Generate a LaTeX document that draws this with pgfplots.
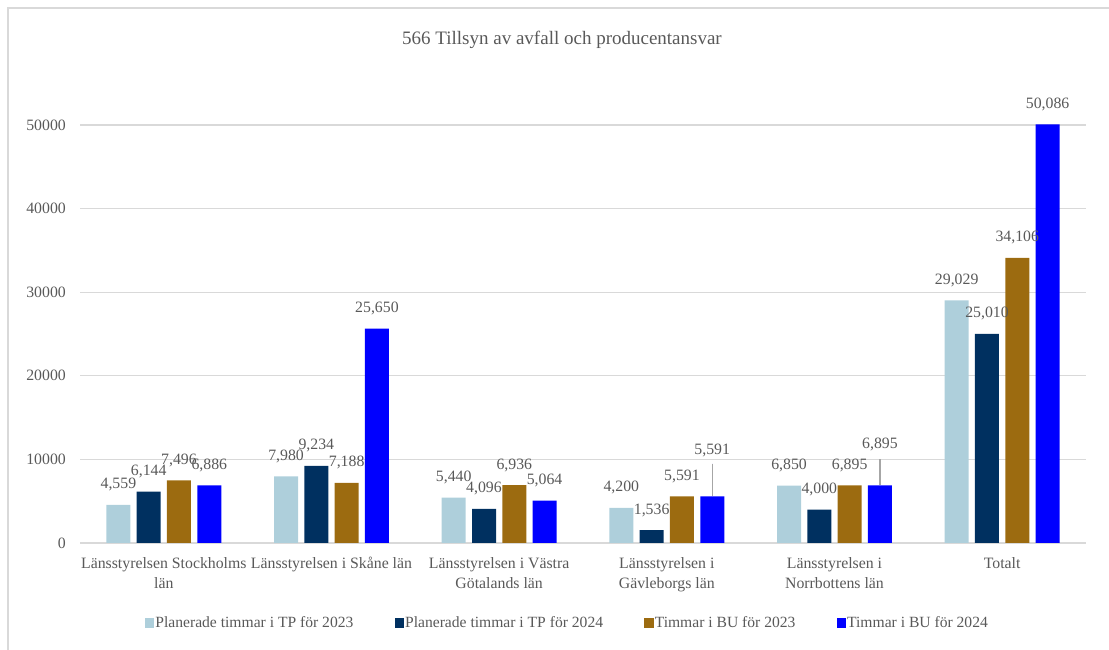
\documentclass[border=0pt]{standalone}
\usepackage{fontspec}
\setmainfont{Liberation Serif}
\usepackage{pgfplots}
\pgfplotsset{compat=1.18}
\usepackage{pgfplotstable}
\definecolor{txt}{HTML}{595959}
\definecolor{gridc}{HTML}{D9D9D9}
\definecolor{leader}{HTML}{A6A6A6}
\definecolor{cA}{HTML}{AECFDB}
\definecolor{cB}{HTML}{003060}
\definecolor{cC}{HTML}{9C6B10}
\definecolor{cD}{HTML}{0000FF}

\pgfplotstableread{
x y off err
0 4559 20 0
1 7980 20 0
2 5440 20 0
3 4200 20 0
4 6850 20 0
5 29029 20 0
}\seriesA
\pgfplotstableread{
x y off err
0 6144 20 0
1 9234 20 0
2 4096 20 0
3 1536 20 0
4 4000 20 0
5 25010 20 0
}\seriesB
\pgfplotstableread{
x y off err
0 7496 20 0
1 7188 20 0
2 6936 20 0
3 5591 20 0
4 6895 20 0
5 34106 20 0
}\seriesC
\pgfplotstableread{
x y off err
0 6886 20 0
1 25650 20 0
2 5064 20 0
3 5591 45.3 3911
4 6895 40.4 3122
5 50086 20 0
}\seriesD

\pgfplotsset{
  mybar/.style={
    draw=none,
    legend image code/.code={\fill[##1] (0bp,-4.65bp) rectangle (9.3bp,4.65bp);},
    visualization depends on={\thisrow{off} \as \laboff},
    nodes near coords,
    every node near coord/.append style={anchor=center, inner sep=0pt, yshift=\laboff bp,
      font=\fontsize{15.8bp}{19bp}\selectfont, text=txt},
  },
}

\begin{document}
\begin{tikzpicture}
\useasboundingbox (0,0) rectangle (1109bp,650bp);
\draw[gridc, line width=1.2bp] (8bp,0) -- (8bp,642bp) -- (1109bp,642bp);
\node[font=\fontsize{19bp}{22bp}\selectfont, text=txt] at (562bp,610bp) {566 Tillsyn av avfall och producentansvar};
\begin{axis}[
  at={(80bp,107bp)}, anchor=south west,
  scale only axis, width=1006bp, height=418bp,
  ybar=6.3bp, bar width=24bp,
  xmin=-0.5, xmax=5.5, ymin=0, ymax=50000,
  clip=false,
  axis line style={draw=none},
  major tick length=0pt,
  scaled y ticks=false,
  ymajorgrids, grid style={gridc, line width=1.1bp},
  ytick={0,10000,20000,30000,40000,50000},
  yticklabels={0,10000,20000,30000,40000,50000},
  xtick={0,1,2,3,4,5},
  xticklabels={{Länsstyrelsen Stockholms\\län},{Länsstyrelsen i Skåne län},{Länsstyrelsen i Västra\\Götalands län},{Länsstyrelsen i\\Gävleborgs län},{Länsstyrelsen i\\Norrbottens län},{Totalt}},
  yticklabel style={anchor=east, inner sep=0pt, xshift=-14bp, font=\fontsize{15.8bp}{19bp}\selectfont, text=txt},
  xticklabel style={anchor=north, align=center, inner sep=0pt, yshift=-14bp, font=\fontsize{15.8bp}{20.5bp}\selectfont, text=txt},
  /pgf/number format/assume math mode=true,
  legend columns=4,
  legend style={draw=none, fill=none, at={(0.4841,-0.1914)}, anchor=center,
    font=\fontsize{15.6bp}{18bp}\selectfont, text=txt,
    nodes={inner sep=1.2bp},
    /tikz/every even column/.append style={column sep=40bp}},
]
\addplot[mybar, fill=cA] table[x=x, y=y] {\seriesA};
\addlegendentry{Planerade timmar i TP för 2023}
\addplot[mybar, fill=cB] table[x=x, y=y] {\seriesB};
\addlegendentry{Planerade timmar i TP för 2024}
\addplot[mybar, fill=cC] table[x=x, y=y] {\seriesC};
\addlegendentry{Timmar i BU för 2023}
\addplot[mybar, fill=cD, error bars/.cd, y dir=plus, y explicit, error mark=none,
  error bar style={draw=leader, line width=1.3bp}] table[x=x, y=y, y error=err] {\seriesD};
\addlegendentry{Timmar i BU för 2024}
\end{axis}
\end{tikzpicture}
\end{document}
